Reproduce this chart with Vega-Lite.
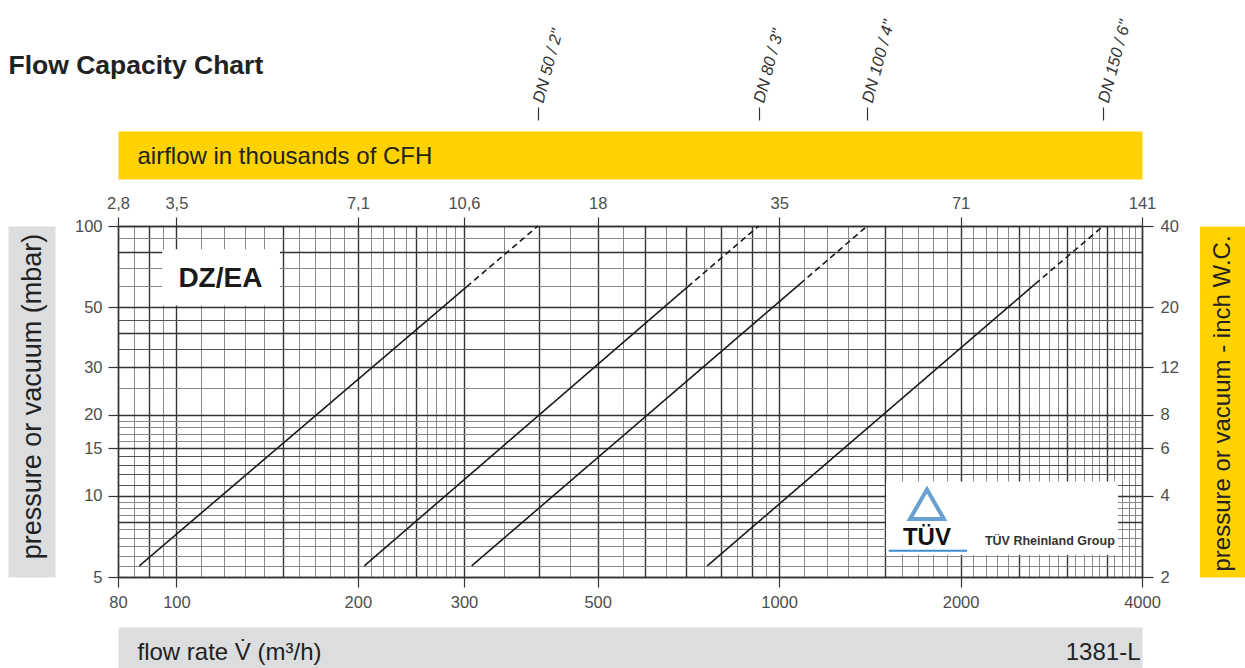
{
  "$schema": "https://vega.github.io/schema/vega-lite/v6.json",
  "width": 1024,
  "height": 351,
  "autosize": {"type": "none"},
  "padding": {"left": 118, "top": 226, "right": 103, "bottom": 91},
  "background": "white",
  "config": {
    "font": "Liberation Sans",
    "view": {"stroke": null},
    "axis": {
      "grid": false,
      "labelFont": "Liberation Sans",
      "titleFont": "Liberation Sans",
      "labelOverlap": false,
      "labelFlush": false,
      "labelBound": false,
      "labelColor": "#4d4d4d",
      "labelFontSize": 16.5,
      "titleColor": "#222222",
      "domainColor": "#333333",
      "tickColor": "#333333"
    }
  },
  "data": {
    "values": [
      {"series": "DN50", "seg": "solid", "flow": 86.8, "p": 5.5},
      {"series": "DN50", "seg": "solid", "flow": 303, "p": 59.5},
      {"series": "DN50", "seg": "dashed", "flow": 303, "p": 59.5},
      {"series": "DN50", "seg": "dashed", "flow": 398, "p": 100},
      {"series": "DN80", "seg": "solid", "flow": 205, "p": 5.5},
      {"series": "DN80", "seg": "solid", "flow": 705, "p": 59.5},
      {"series": "DN80", "seg": "dashed", "flow": 705, "p": 59.5},
      {"series": "DN80", "seg": "dashed", "flow": 925, "p": 100},
      {"series": "DN100", "seg": "solid", "flow": 309, "p": 5.5},
      {"series": "DN100", "seg": "solid", "flow": 1083, "p": 61},
      {"series": "DN100", "seg": "dashed", "flow": 1083, "p": 61},
      {"series": "DN100", "seg": "dashed", "flow": 1400, "p": 100},
      {"series": "DN150", "seg": "solid", "flow": 760, "p": 5.5},
      {"series": "DN150", "seg": "solid", "flow": 2660, "p": 61},
      {"series": "DN150", "seg": "dashed", "flow": 2660, "p": 61},
      {"series": "DN150", "seg": "dashed", "flow": 3450, "p": 100}
    ]
  },
  "layer": [
    {
      "mark": {"type": "line", "color": "#1a1a1a", "strokeWidth": 1.6},
      "encoding": {
        "x": {
          "field": "flow", "type": "quantitative",
          "scale": {"type": "log", "domain": [80, 4000], "nice": false},
          "axis": {
            "orient": "bottom", "title": null,
            "values": [80,85,90,95,100,110,120,130,140,150,160,170,180,190,200,210,220,230,240,250,260,270,280,290,300,350,400,450,500,550,600,650,700,750,800,850,900,950,1000,1100,1200,1300,1400,1500,1600,1700,1800,1900,2000,2100,2200,2300,2400,2500,2600,2700,2800,2900,3000,3100,3200,3300,3400,3500,3600,3700,3800,3900,4000],
            "grid": true,
            "gridColor": {"condition": {"test": "indexof([80,90,100,150,200,250,300,400,500,600,700,800,900,1000,1500,2000,2500,3000,3500,4000], datum.value) >= 0", "value": "#333333"}, "value": "#8a8a8a"},
            "gridWidth": {"condition": {"test": "indexof([80,90,100,150,200,250,300,400,500,600,700,800,900,1000,1500,2000,2500,3000,3500,4000], datum.value) >= 0", "value": 1.4}, "value": 1},
            "ticks": true, "tickSize": 10, "tickWidth": 1.2,
            "tickOpacity": {"condition": {"test": "indexof([80,100,200,300,500,1000,2000,4000], datum.value) >= 0", "value": 1}, "value": 0},
            "labelExpr": "indexof([80,100,200,300,500,1000,2000,4000], datum.value) >= 0 ? '' + datum.value : ''",
            "labelPadding": 7,
            "domain": true, "domainWidth": 1.4
          }
        },
        "y": {
          "field": "p", "type": "quantitative",
          "scale": {"type": "log", "domain": [5, 100], "nice": false},
          "axis": {
            "orient": "left", "title": null,
            "values": [5,5.5,6,6.5,7,7.5,8,8.5,9,9.5,10,11,12,13,14,15,16,17,18,19,20,25,30,35,40,45,50,60,70,80,90,100],
            "grid": true,
            "gridColor": {"condition": [
              {"test": "indexof([5,8,10,15,20,30,40,50,80,100], datum.value) >= 0", "value": "#333333"},
              {"test": "indexof([11,12,13,14,35,45], datum.value) >= 0", "value": "#555555"}
            ], "value": "#8a8a8a"},
            "gridWidth": {"condition": {"test": "indexof([5,8,10,15,20,30,40,50,80,100], datum.value) >= 0", "value": 1.4}, "value": 1},
            "ticks": true, "tickSize": 10, "tickWidth": 1.2,
            "tickOpacity": {"condition": {"test": "indexof([5,10,15,20,30,50,100], datum.value) >= 0", "value": 1}, "value": 0},
            "labelExpr": "indexof([5,10,15,20,30,50,100], datum.value) >= 0 ? '' + datum.value : ''",
            "labelPadding": 6,
            "domain": true, "domainWidth": 1.4
          }
        },
        "detail": {"field": "series"},
        "strokeDash": {
          "field": "seg", "type": "nominal",
          "scale": {"domain": ["solid", "dashed"], "range": [[1, 0], [6, 4]]},
          "legend": null
        }
      }
    },
    {
      "data": {"values": [{}]},
      "mark": {"type": "rect", "fill": "white"},
      "encoding": {
        "x": {
          "datum": 94.7, "type": "quantitative",
          "scale": {"type": "log", "domain": [80, 4000], "nice": false},
          "axis": {
            "orient": "top", "title": null,
            "values": [80,100,200,300,500,1000,2000,4000],
            "labelExpr": "datum.value==80?'2,8':datum.value==100?'3,5':datum.value==200?'7,1':datum.value==300?'10,6':datum.value==500?'18':datum.value==1000?'35':datum.value==2000?'71':'141'",
            "ticks": true, "tickSize": 9, "tickWidth": 1.2, "labelPadding": 6,
            "domain": true, "domainWidth": 1.4
          }
        },
        "x2": {"datum": 148.5},
        "y": {
          "datum": 50.7, "type": "quantitative",
          "scale": {"type": "log", "domain": [5, 100], "nice": false},
          "axis": {
            "orient": "right", "title": null,
            "values": [5,10,15,20,30,50,100],
            "labelExpr": "datum.value==5?'2':datum.value==10?'4':datum.value==15?'6':datum.value==20?'8':datum.value==30?'12':datum.value==50?'20':'40'",
            "ticks": true, "tickSize": 11, "tickWidth": 1.2, "labelPadding": 7,
            "domain": true, "domainWidth": 1.4
          }
        },
        "y2": {"datum": 82}
      }
    },
    {
      "data": {"values": [{}]},
      "mark": {"type": "text", "text": "DZ/EA", "font": "Liberation Sans", "fontSize": 28, "fontWeight": "bold", "color": "#1a1a1a", "align": "center", "baseline": "middle"},
      "encoding": {
        "x": {
          "datum": 118.3, "type": "quantitative",
          "scale": {"type": "log", "domain": [80, 4000], "nice": false},
          "axis": {
            "orient": "top", "offset": 71, "labels": false, "ticks": false,
            "domain": true, "domainColor": "#ffd200", "domainWidth": 48,
            "title": "airflow in thousands of CFH",
            "titleX": 19, "titleY": 1, "titleAlign": "left", "titleBaseline": "middle",
            "titleFontSize": 24, "titleFontWeight": "normal", "titleColor": "#222222"
          }
        },
        "y": {
          "datum": 63.6, "type": "quantitative",
          "scale": {"type": "log", "domain": [5, 100], "nice": false},
          "axis": {
            "orient": "left", "offset": 86.5, "labels": false, "ticks": false,
            "domain": true, "domainColor": "#dcdddf", "domainWidth": 47,
            "title": "pressure or vacuum (mbar)",
            "titleX": 1, "titleY": 170, "titleAngle": -90, "titleAlign": "center", "titleBaseline": "middle",
            "titleFontSize": 27, "titleFontWeight": "normal", "titleColor": "#222222"
          }
        }
      }
    },
    {
      "data": {"values": [{}]},
      "mark": {"type": "rect", "fill": "white"},
      "encoding": {
        "x": {
          "datum": 1505, "type": "quantitative",
          "scale": {"type": "log", "domain": [80, 4000], "nice": false},
          "axis": {
            "orient": "top", "offset": 106,
            "values": [398, 925, 1400, 3450],
            "labelExpr": "datum.value==398?'DN 50 / 2\"':datum.value==925?'DN 80 / 3\"':datum.value==1400?'DN 100 / 4\"':'DN 150 / 6\"'",
            "labelAngle": -75, "labelAlign": "left", "labelBaseline": "middle",
            "labelFontSize": 16.5, "labelFontStyle": "italic", "labelColor": "#333333", "labelPadding": 5,
            "ticks": true, "tickSize": 13, "tickWidth": 1.2,
            "domain": false,
            "title": "Flow Capacity Chart",
            "titleX": -110, "titleY": -55, "titleAlign": "left", "titleBaseline": "middle", "titleAngle": 0,
            "titleFontSize": 26.5, "titleFontWeight": "bold", "titleColor": "#222222"
          }
        },
        "x2": {"datum": 3650},
        "y": {
          "datum": 6.05, "type": "quantitative",
          "scale": {"type": "log", "domain": [5, 100], "nice": false},
          "axis": {
            "orient": "right", "offset": 80.5, "labels": false, "ticks": false,
            "domain": true, "domainColor": "#ffd200", "domainWidth": 46,
            "title": "pressure or vacuum - inch W.C.",
            "titleX": 0, "titleY": 177, "titleAngle": -90, "titleAlign": "center", "titleBaseline": "middle",
            "titleFontSize": 24, "titleFontWeight": "normal", "titleColor": "#222222"
          }
        },
        "y2": {"datum": 11.3}
      }
    },
    {
      "data": {"values": [{}]},
      "mark": {"type": "point", "shape": "triangle-up", "filled": false, "color": "#2a78c0", "strokeWidth": 4, "size": 1150},
      "encoding": {
        "x": {
          "datum": 1759, "type": "quantitative",
          "scale": {"type": "log", "domain": [80, 4000], "nice": false},
          "axis": {
            "orient": "bottom", "offset": 72, "labels": false, "ticks": false,
            "domain": true, "domainColor": "#dcdddf", "domainWidth": 44,
            "title": "flow rate V̇ (m³/h)",
            "titleX": 19, "titleY": 3, "titleAlign": "left", "titleBaseline": "middle",
            "titleFontSize": 24, "titleFontWeight": "normal", "titleColor": "#222222"
          }
        },
        "y": {"datum": 9.3, "type": "quantitative", "scale": {"type": "log", "domain": [5, 100], "nice": false}, "axis": null}
      }
    },
    {
      "data": {"values": [{}]},
      "mark": {"type": "text", "text": "TÜV", "font": "Liberation Sans", "fontSize": 24, "fontWeight": "bold", "color": "#111111", "align": "center", "baseline": "middle"},
      "encoding": {
        "x": {
          "datum": 1759, "type": "quantitative",
          "scale": {"type": "log", "domain": [80, 4000], "nice": false},
          "axis": {
            "orient": "bottom", "offset": 72, "labels": false, "ticks": false, "domain": false,
            "title": "1381-L",
            "titleX": 1022, "titleY": 3, "titleAlign": "right", "titleBaseline": "middle",
            "titleFontSize": 24, "titleFontWeight": "normal", "titleColor": "#222222"
          }
        },
        "y": {"datum": 6.95, "type": "quantitative", "scale": {"type": "log", "domain": [5, 100], "nice": false}, "axis": null}
      }
    },
    {
      "data": {"values": [{}]},
      "mark": {"type": "rule", "color": "#3d8fd1", "strokeWidth": 2},
      "encoding": {
        "x": {"datum": 1520, "type": "quantitative", "scale": {"type": "log", "domain": [80, 4000], "nice": false}, "axis": null},
        "x2": {"datum": 2050},
        "y": {"datum": 6.26, "type": "quantitative", "scale": {"type": "log", "domain": [5, 100], "nice": false}, "axis": null}
      }
    },
    {
      "data": {"values": [{}]},
      "mark": {"type": "text", "text": "TÜV Rheinland Group", "font": "Liberation Sans", "fontSize": 12.5, "fontWeight": "bold", "color": "#333333", "align": "left", "baseline": "middle"},
      "encoding": {
        "x": {"datum": 2195, "type": "quantitative", "scale": {"type": "log", "domain": [80, 4000], "nice": false}, "axis": null},
        "y": {"datum": 6.8, "type": "quantitative", "scale": {"type": "log", "domain": [5, 100], "nice": false}, "axis": null}
      }
    }
  ],
  "resolve": {"axis": {"x": "independent", "y": "independent"}}
}
